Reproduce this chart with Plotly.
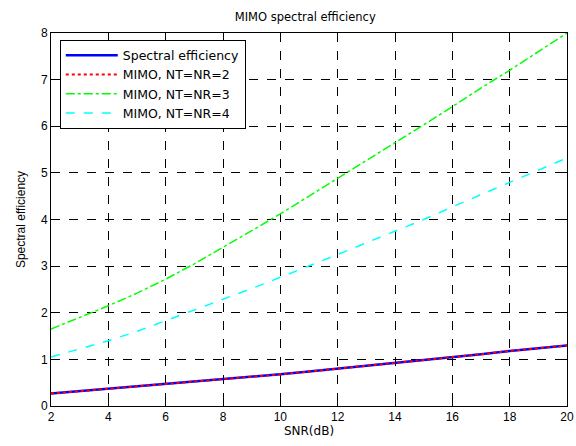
import plotly.graph_objects as go

snr_db = [2, 3, 4, 5, 6, 7, 8, 9, 10, 11, 12, 13, 14, 15, 16, 17, 18, 19, 20]
se_siso = [0.27, 0.32, 0.37, 0.42, 0.47, 0.52, 0.57, 0.63, 0.68, 0.74, 0.80, 0.86, 0.93, 0.99, 1.05, 1.11, 1.18, 1.24, 1.30]
se_mimo2 = [0.27, 0.32, 0.37, 0.42, 0.47, 0.52, 0.57, 0.63, 0.68, 0.74, 0.80, 0.86, 0.93, 0.99, 1.05, 1.11, 1.18, 1.24, 1.30]
se_mimo3 = [1.65, 1.90, 2.15, 2.42, 2.72, 3.05, 3.40, 3.76, 4.12, 4.50, 4.88, 5.27, 5.65, 6.03, 6.42, 6.82, 7.20, 7.60, 8.00]
se_mimo4 = [1.05, 1.22, 1.40, 1.60, 1.83, 2.05, 2.28, 2.52, 2.76, 3.00, 3.25, 3.50, 3.75, 4.00, 4.27, 4.53, 4.80, 5.05, 5.32]

x_ticks = [2, 4, 6, 8, 10, 12, 14, 16, 18, 20]
y_ticks = [0, 1, 2, 3, 4, 5, 6, 7, 8]

font_family = "Liberation Sans, Arial, sans-serif"
wide_family = "DejaVu Sans, Verdana, sans-serif"

fig = go.Figure()
fig.add_trace(go.Scatter(x=snr_db, y=se_siso, mode="lines", name="Spectral efficiency",
                         legendgroup="g1",
                         line=dict(color="#0000ff", width=2.5, dash="solid")))
fig.add_trace(go.Scatter(x=snr_db, y=se_mimo2, mode="lines", name="MIMO, NT=NR=2",
                         legendgroup="g2",
                         line=dict(color="#ff0000", width=2, dash="dot")))
fig.add_trace(go.Scatter(x=snr_db, y=se_mimo3, mode="lines", name="MIMO, NT=NR=3",
                         legendgroup="g3",
                         line=dict(color="#00ff00", width=1.5, dash="dashdot")))
fig.add_trace(go.Scatter(x=snr_db, y=se_mimo4, mode="lines", name="MIMO, NT=NR=4",
                         legendgroup="g4",
                         line=dict(color="#00ffff", width=1.5, dash="dash")))

axis_common = dict(
    showgrid=True, gridcolor="black", gridwidth=1, griddash="dash",
    showline=True, linecolor="black", linewidth=1, mirror="ticks",
    ticks="inside", ticklen=5, tickcolor="black",
    zeroline=False, tickfont=dict(size=12, color="black", family=font_family),
    ticklabeloverflow="allow", automargin=False,
)

fig.update_layout(
    width=576, height=446,
    margin=dict(l=51, r=9, t=33, b=40, autoexpand=False),
    paper_bgcolor="white", plot_bgcolor="white",
    font=dict(family=font_family, size=11, color="black"),
    title=dict(text="MIMO spectral efficiency", x=0.53, xanchor="center", y=0.962, yanchor="middle",
               font=dict(size=11.5, color="black", family=wide_family)),
    xaxis=dict(range=[2, 20], tickvals=x_ticks,
               title=dict(text="SNR(dB)", standoff=2, font=dict(size=12, family=wide_family)), **axis_common),
    yaxis=dict(range=[0, 8], tickvals=y_ticks,
               title=dict(text="Spectral efficiency", standoff=12, font=dict(size=12)), **axis_common),
    legend=dict(x=0.017, y=0.982, xanchor="left", yanchor="top",
                bgcolor="white", bordercolor="black", borderwidth=1,
                font=dict(size=12.5, color="black", family=wide_family),
                traceorder="normal", tracegroupgap=3, itemwidth=52),
    showlegend=True,
)

fig.write_html("out.html", config={"displayModeBar": False},
               post_script="document.body.style.margin='0';document.body.style.overflow='hidden';")
